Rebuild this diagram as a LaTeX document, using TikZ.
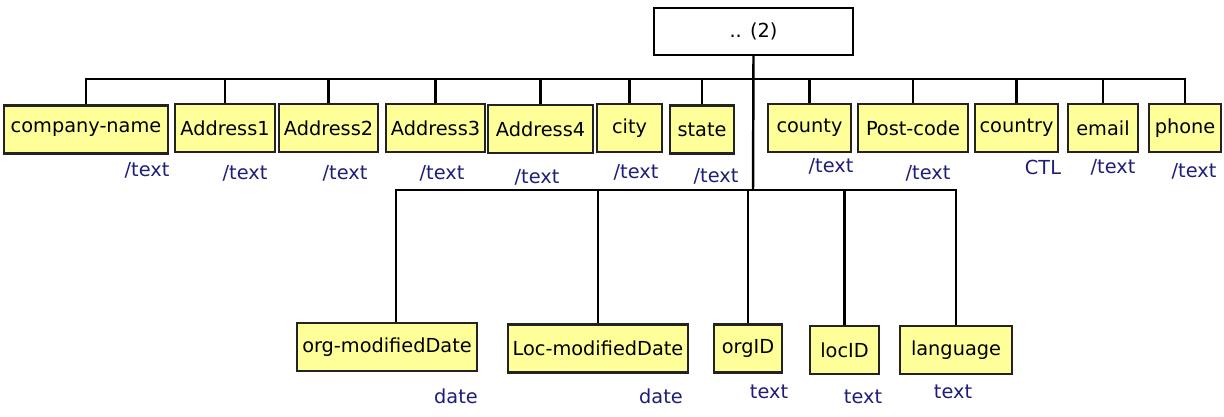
\documentclass[tikz,border=0pt]{standalone}
\usepackage{fontspec}
\setmainfont{DejaVu Sans}
\definecolor{fldFill}{RGB}{255,255,153}
\definecolor{fldLine}{RGB}{35,35,35}
\definecolor{typeBlue}{RGB}{30,30,120}

\begin{document}
\begin{tikzpicture}[
  x=0.02cm, y=-0.02cm,
  font=\fontsize{11}{13}\selectfont,
  fld/.style={rectangle, draw=fldLine, fill=fldFill, line width=1.2pt,
              minimum height=0.96cm, inner xsep=1pt, inner ysep=0pt},
  rootbox/.style={rectangle, draw=black, fill=white, line width=1.2pt,
                  minimum width=3.98cm, minimum height=0.94cm},
  typ/.style={text=typeBlue, inner sep=0pt},
  wire/.style={draw=black, line width=1.4pt},
]
\useasboundingbox (0,0) rectangle (1224,416);

% ============ root and bus points ============
\node[rootbox] (root) at (753.5,31.5) {.. (2)};
\coordinate (tb) at (753,79);
\coordinate (lb) at (753,190);

% ============ upper row of fields ============
\node[fld, minimum width=3.28cm] (cn)    at (86,129.5)   {company-name};
\node[fld, minimum width=2.00cm] (a1)    at (225,128)    {Address1};
\node[fld, minimum width=1.98cm] (a2)    at (328.5,128)  {Address2};
\node[fld, minimum width=1.98cm] (a3)    at (435.5,128)  {Address3};
\node[fld, minimum width=2.10cm] (a4)    at (540.5,129)  {Address4};
\node[fld, minimum width=1.30cm] (city)  at (629.5,128)  {city};
\node[fld, minimum width=1.28cm] (state) at (702,129.5)  {state};
\node[fld, minimum width=1.66cm] (cnty)  at (809.5,128)  {county};
\node[fld, minimum width=2.20cm] (pc)    at (913,128)    {Post-code};
\node[fld, minimum width=1.66cm] (ctry)  at (1016.5,128) {country};
\node[fld, minimum width=1.40cm] (email) at (1103,128)   {email};
\node[fld, minimum width=1.44cm] (phone) at (1185,128)   {phone};

\node[typ] (tcn)    at (147,170)  {/text};
\node[typ] (ta1)    at (245,173)  {/text};
\node[typ] (ta2)    at (345,173)  {/text};
\node[typ] (ta3)    at (442,173)  {/text};
\node[typ] (ta4)    at (537,177)  {/text};
\node[typ] (tcity)  at (636,172)  {/text};
\node[typ] (tstate) at (716,176)  {/text};
\node[typ] (tcnty)  at (831,166)  {/text};
\node[typ] (tpc)    at (928,173)  {/text};
\node[typ] (tctry)  at (1043,167) {CTL};
\node[typ] (temail) at (1113,167) {/text};
\node[typ] (tphone) at (1194,171) {/text};

% ============ lower row of fields ============
\node[fld, minimum width=3.60cm] (omd)  at (387,347)    {org-modifiedDate};
\node[fld, minimum width=3.60cm] (lmd)  at (598,348.5)  {Loc-modifiedDate};
\node[fld, minimum width=1.36cm] (oid)  at (748,348.5)  {orgID};
\node[fld, minimum width=1.38cm] (lid)  at (844.5,350)  {locID};
\node[fld, minimum width=2.24cm] (lang) at (956,350)    {language};

\node[typ] (tomd)  at (456,396) {date};
\node[typ] (tlmd)  at (661,396) {date};
\node[typ] (toid)  at (769,392) {text};
\node[typ] (tlid)  at (863,397) {text};
\node[typ] (tlang) at (953,392) {text};

% ============ connectors ============
\draw[wire] (root.south) -- (lb);
\foreach \f in {cn,a1,a2,a3,a4,city,state,cnty,pc,ctry,email,phone}
  \draw[wire] (\f.north) |- (tb);
\draw[wire] ([xshift=0.18cm]omd.north) |- (lb);
\foreach \f in {lmd,oid,lid,lang}
  \draw[wire] (\f.north) |- (lb);

\end{tikzpicture}
\end{document}
